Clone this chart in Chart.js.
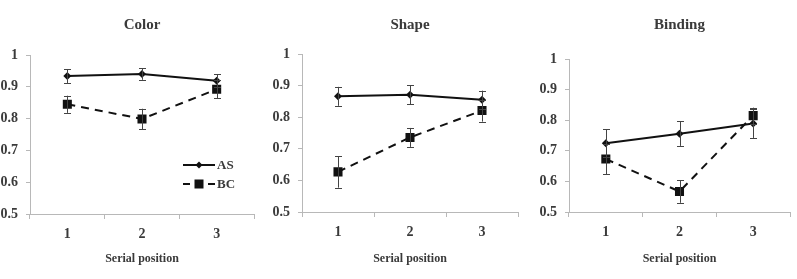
<!DOCTYPE html>
<html>
<head>
<meta charset="utf-8">
<script src="https://cdn.jsdelivr.net/npm/chart.js"></script>
<style>
  body { margin: 0; background: #fff; }
  #wrap { position: relative; width: 797px; height: 279px; overflow: hidden; }
  canvas { position: absolute; top: 0; }
</style>
</head>
<body>
<div id="wrap">
  <canvas id="colorChart" width="265" height="279" style="left:0px"></canvas>
  <canvas id="shapeChart" width="265" height="279" style="left:265px"></canvas>
  <canvas id="bindingChart" width="267" height="279" style="left:530px"></canvas>
</div>
<script>
const positions = ["1", "2", "3"];
const seriesNames = ["AS", "BC"];

const colorAS = [0.934, 0.940, 0.919];
const colorASErr = [0.022, 0.018, 0.021];
const colorBC = [0.845, 0.799, 0.892];
const colorBCErr = [0.027, 0.032, 0.028];

const shapeAS = [0.866, 0.871, 0.855];
const shapeASErr = [0.030, 0.030, 0.029];
const shapeBC = [0.627, 0.736, 0.821];
const shapeBCErr = [0.050, 0.030, 0.035];

const bindingAS = [0.725, 0.756, 0.789];
const bindingASErr = [0.045, 0.040, 0.047];
const bindingBC = [0.673, 0.567, 0.815];
const bindingBCErr = [0.050, 0.037, 0.026];

const yMin = 0.5, yMax = 1, yStep = 0.1;

const FONT = "'Liberation Serif', 'Times New Roman', serif";
const AXIS_GREY = "#b8b8b8";
const INK = "#111";
const TEXT = "#3a3a3a";

// error bars drawn through the chart's own scales
const errorBars = {
  id: "errorBars",
  afterDatasetsDraw(chart) {
    const ctx = chart.ctx;
    const xs = chart.scales.x, ys = chart.scales.y;
    ctx.save();
    ctx.strokeStyle = "#444";
    ctx.lineWidth = 1;
    chart.data.datasets.forEach(ds => {
      ds.data.forEach((v, i) => {
        const e = ds.err[i];
        const x = Math.round(xs.getPixelForValue(i)) + 0.5;
        const yTop = ys.getPixelForValue(v + e);
        const yBot = ys.getPixelForValue(v - e);
        ctx.beginPath();
        ctx.moveTo(x, yTop); ctx.lineTo(x, yBot);
        ctx.moveTo(x - 3.5, Math.round(yTop) + 0.5); ctx.lineTo(x + 3.5, Math.round(yTop) + 0.5);
        ctx.moveTo(x - 3.5, Math.round(yBot) + 0.5); ctx.lineTo(x + 3.5, Math.round(yBot) + 0.5);
        ctx.stroke();
      });
    });
    ctx.restore();
  }
};

// legend sitting inside the first panel
const insideLegend = {
  id: "insideLegend",
  afterDraw(chart) {
    if (!chart.options.plugins.insideLegend.show) return;
    const ctx = chart.ctx;
    const a = chart.chartArea;
    const x0 = a.right - 71, x1 = a.right - 39, xm = (x0 + x1) / 2;
    const rows = [a.top + 110, a.top + 129];
    ctx.save();
    ctx.strokeStyle = INK;
    ctx.fillStyle = INK;
    ctx.lineWidth = 2;
    // AS
    ctx.beginPath();
    ctx.moveTo(x0, rows[0]); ctx.lineTo(x1, rows[0]);
    ctx.stroke();
    ctx.beginPath();
    ctx.moveTo(xm - 3.5, rows[0]); ctx.lineTo(xm, rows[0] - 3.5);
    ctx.lineTo(xm + 3.5, rows[0]); ctx.lineTo(xm, rows[0] + 3.5);
    ctx.closePath(); ctx.fill();
    // BC
    ctx.beginPath();
    ctx.moveTo(x0, rows[1]); ctx.lineTo(x0 + 7, rows[1]);
    ctx.moveTo(x1 - 7, rows[1]); ctx.lineTo(x1, rows[1]);
    ctx.stroke();
    ctx.fillRect(xm - 4.5, rows[1] - 4.5, 9, 9);
    ctx.font = "bold 13px " + FONT;
    ctx.textBaseline = "middle";
    ctx.fillStyle = TEXT;
    ctx.fillText(seriesNames[0], x1 + 2, rows[0] + 1);
    ctx.fillText(seriesNames[1], x1 + 2, rows[1] + 1);
    ctx.restore();
  }
};

function makePanel(id, title, as, asErr, bc, bcErr, geo) {
  return new Chart(document.getElementById(id), {
    type: "line",
    data: {
      labels: positions,
      datasets: [
        {
          label: seriesNames[0], data: as, err: asErr,
          borderColor: INK, backgroundColor: INK, borderWidth: 2,
          pointStyle: "rectRot", pointRadius: 4, pointBorderWidth: 0
        },
        {
          label: seriesNames[1], data: bc, err: bcErr,
          borderColor: INK, backgroundColor: INK, borderWidth: 2, borderDash: [8, 6],
          pointStyle: "rect", pointRadius: 6.4, pointBorderWidth: 0
        }
      ]
    },
    options: {
      responsive: false,
      animation: false,
      layout: { padding: { right: geo.right, left: 0, bottom: 0, top: 0 } },
      plugins: {
        legend: { display: false },
        tooltip: { enabled: false },
        insideLegend: { show: geo.legend },
        title: {
          display: true, text: title, fullSize: false, color: TEXT,
          font: { family: FONT, size: 15, weight: "bold" },
          padding: { top: 16, bottom: geo.top - 34 }
        }
      },
      scales: {
        x: {
          type: "category",
          offset: true,
          grid: { display: true, drawOnChartArea: false, drawTicks: true, tickLength: 5, color: AXIS_GREY, offset: true },
          border: { color: AXIS_GREY, width: 1 },
          ticks: { color: TEXT, font: { family: FONT, size: 14, weight: "bold" }, padding: 7 },
          title: { display: true, text: "Serial position", color: TEXT, font: { family: FONT, size: 12, weight: "bold" }, padding: { top: 0, bottom: 13 } },
          afterFit(s) { s.height = geo.xh; }
        },
        y: {
          min: yMin, max: yMax,
          ticks: {
            stepSize: yStep, color: TEXT, font: { family: FONT, size: 14, weight: "bold" }, padding: 8,
            callback: v => String(Number(v.toFixed(1)))
          },
          grid: { display: true, drawOnChartArea: false, drawTicks: true, tickLength: 4, color: AXIS_GREY },
          border: { color: AXIS_GREY, width: 1 },
          afterFit(s) { s.width = geo.yw; }
        }
      }
    },
    plugins: [errorBars, insideLegend]
  });
}

makePanel("colorChart", "Color", colorAS, colorASErr, colorBC, colorBCErr,
  { yw: 30, right: 11, top: 55, xh: 65, legend: true });
makePanel("shapeChart", "Shape", shapeAS, shapeASErr, shapeBC, shapeBCErr,
  { yw: 37, right: 12, top: 54, xh: 67, legend: false });
makePanel("bindingChart", "Binding", bindingAS, bindingASErr, bindingBC, bindingBCErr,
  { yw: 39, right: 7, top: 59, xh: 67, legend: false });
</script>
</body>
</html>
